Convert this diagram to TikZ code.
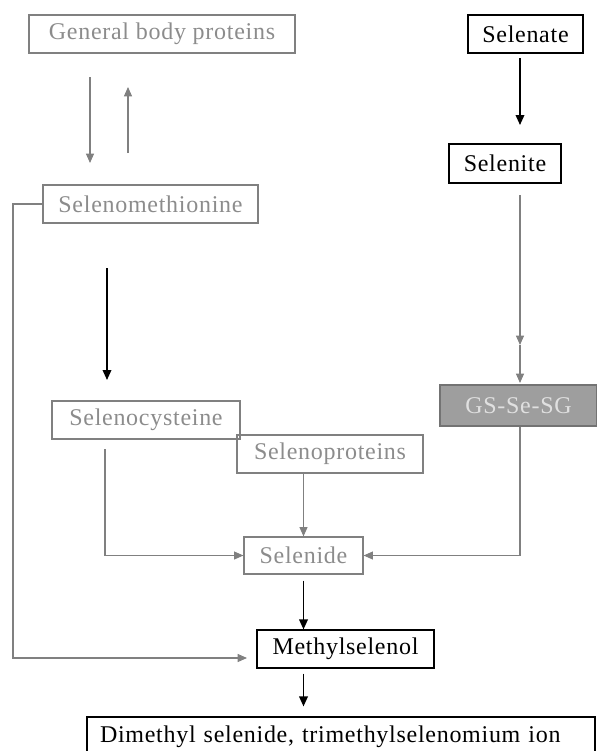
\documentclass[tikz,border=0pt]{standalone}
\usepackage{fontspec}
\setmainfont{Liberation Serif}[LetterSpace=3]
\usetikzlibrary{positioning,arrows.meta}

\tikzset{
  pbox/.style={draw, line width=0.9pt, inner sep=0pt, font=\fontsize{18}{20}\selectfont},
  fadebox/.style={pbox, draw=black!50, text=black!45},
  darkbox/.style={pbox, draw=black, text=black},
  gsbox/.style={pbox, draw=black!55, fill=black!38, text=black!12},
  darrow/.style={-{Triangle[width=6.5pt,length=7.5pt]}, line width=1.1pt},
  farrow/.style={-{Triangle[width=6pt,length=7pt]}, line width=0.8pt, draw=black!50},
}

\begin{document}
\begin{tikzpicture}[x=0.75pt, y=-0.75pt]
  \useasboundingbox (0,0) rectangle (597,751);

  % boxes
  \node[fadebox, minimum width=199.5pt, minimum height=28.5pt] (gbp) at (162,34) {General body proteins};
  \node[fadebox, minimum width=161.25pt, minimum height=28.5pt] (selmet) at (150.5,204) {Selenomethionine};
  \node[darkbox, minimum width=86.25pt, minimum height=28.5pt] (selenate) at (525.5,34) {Selenate};
  \node[darkbox, minimum width=84pt, minimum height=29.25pt] (selenite) at (505,163.5) {Selenite};
  \node[gsbox, minimum width=117.75pt, minimum height=30.75pt] (gssg) at (518.5,405.5) {GS-Se-SG};
  \node[fadebox, minimum width=141pt, minimum height=28.5pt] (selcys) at (146,420) {Selenocysteine};
  \node[fadebox, minimum width=139.5pt, minimum height=28.5pt] (selprot) at (330,454) {Selenoproteins};
  \node[fadebox, minimum width=89.25pt, minimum height=27.75pt] (selenide) at (303.5,555.5) {Selenide};
  \node[darkbox, minimum width=132.75pt, minimum height=28.5pt] (methyl) at (345.5,649) {Methylselenol};
  \node[darkbox, minimum width=381pt, minimum height=30pt, text width=361.5pt, align=left] (dimethyl) at (341,737) {Dimethyl selenide, trimethylselenomium ion};

  % free ends of the connectors
  \coordinate (gbpout) at (90,77);
  \coordinate (smin) at (90,163);
  \coordinate (smout) at (128,153);
  \coordinate (gbpin) at (128,87);
  \coordinate (smdown) at (107,268);
  \coordinate (scin) at (107,380);
  \coordinate (snout) at (520,58);
  \coordinate (snin) at (520,125);
  \coordinate (stout) at (520,195);
  \coordinate (stmid) at (520,345);
  \coordinate (gsin) at (520,383);
  \coordinate (scout) at (105,449);
  \coordinate (lbend) at (13,658);
  \coordinate (mtin) at (247,658);

  % connectors
  \draw[farrow] (gbpout) -- (smin);
  \draw[farrow] (smout) -- (gbpin);
  \draw[darrow] (smdown) -- (scin);
  \draw[darrow] (snout) -- (snin);
  \draw[farrow] (stout) -- (stmid);
  \draw[farrow] (stmid) -- (gsin);
  \draw[farrow] (scout) |- (selenide.west);
  \draw[farrow] (selenide.north |- selprot.south) -- (selenide.north);
  \draw[farrow] ([xshift=1.1pt]gssg.south) |- (selenide.east);
  \draw[darrow, shorten <=4.5pt] (selenide.south) -- (selenide.south |- methyl.north);
  \draw[darrow, shorten <=3.75pt, shorten >=7.5pt] (selenide.south |- methyl.south) -- (selenide.south |- dimethyl.north);
  \draw[farrow] (selmet.west) -| (lbend) -- (mtin);
\end{tikzpicture}
\end{document}
